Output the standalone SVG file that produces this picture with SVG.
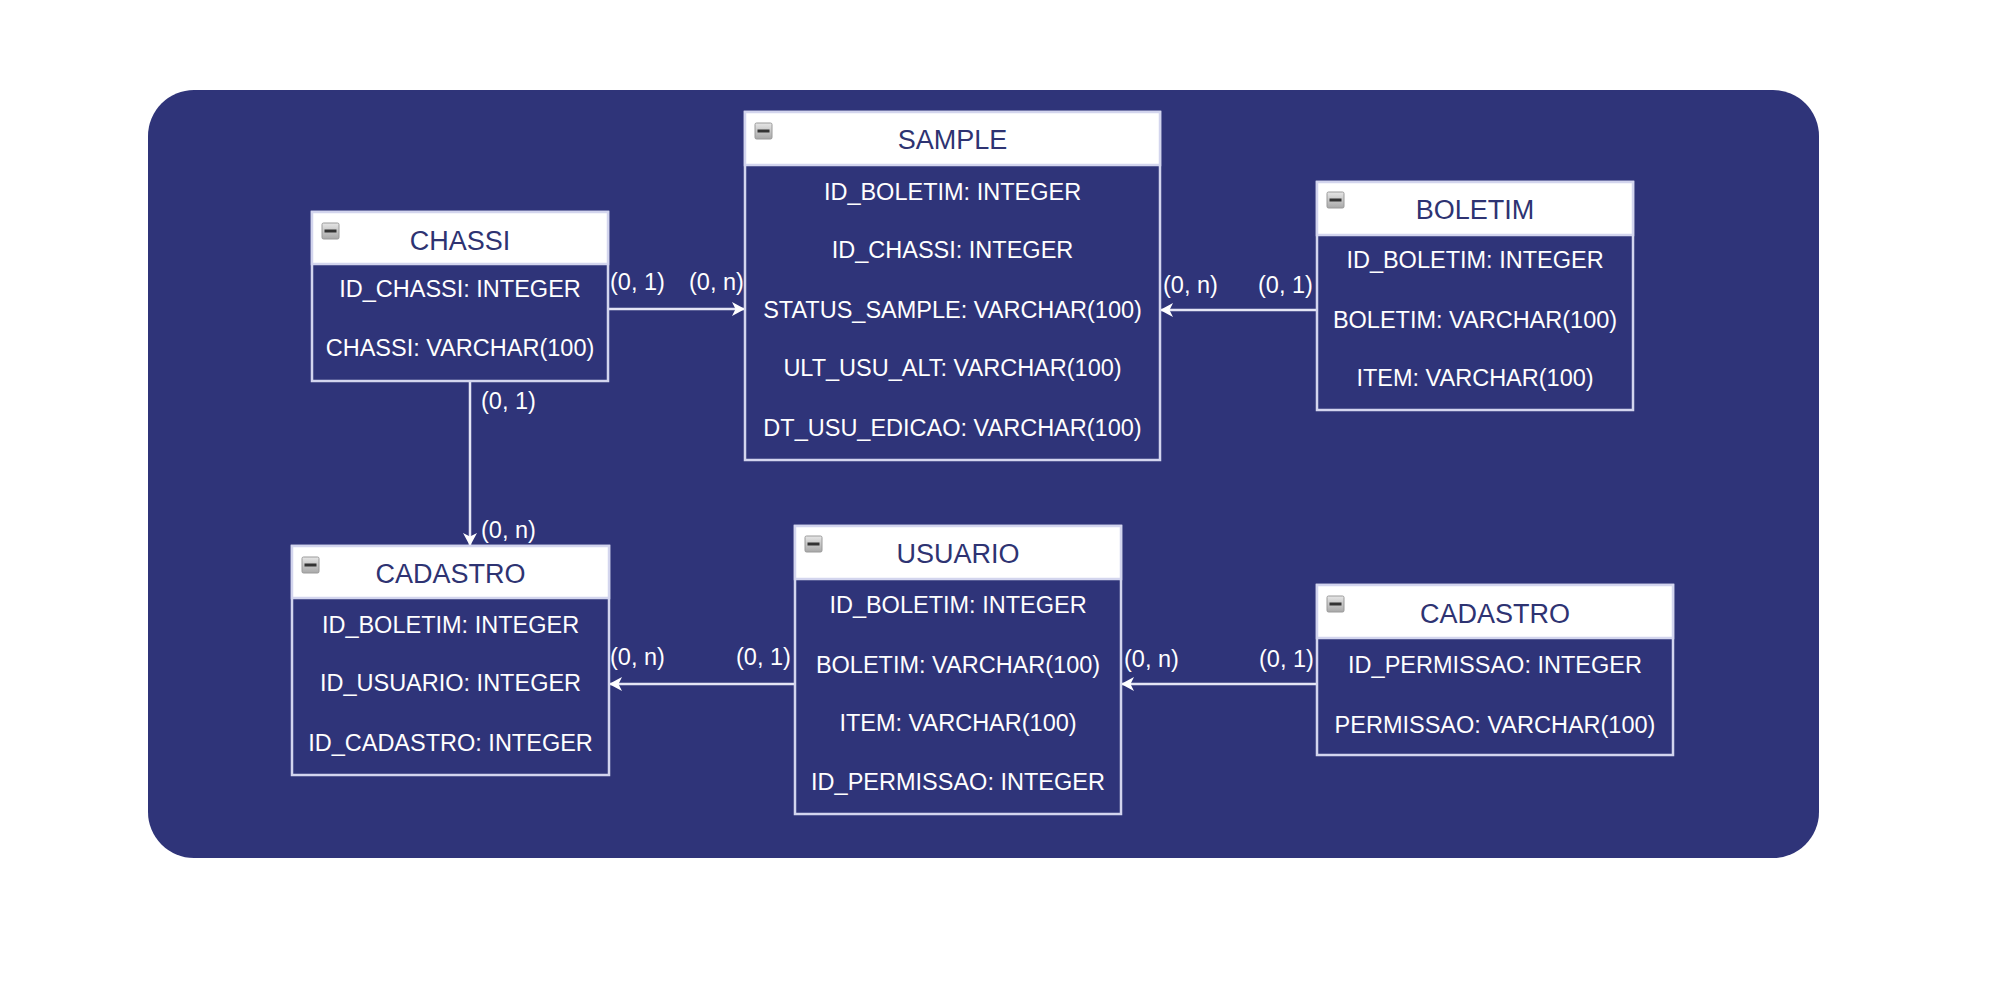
<svg xmlns="http://www.w3.org/2000/svg" width="2000" height="1000" viewBox="0 0 2000 1000">
<defs>
<style>
.bg{fill:#2f3479}
.box{fill:#2f3479;stroke:#d3d5ee;stroke-width:2.5}
.hdr{fill:#ffffff;stroke:#d3d5ee;stroke-width:2.5}
.title{font-family:"Liberation Sans",Arial,sans-serif;font-size:27px;fill:#2e3372;text-anchor:middle}
.fld{font-family:"Liberation Sans",Arial,sans-serif;font-size:23.5px;fill:#ffffff;text-anchor:middle}
.lbl{font-family:"Liberation Sans",Arial,sans-serif;font-size:23.5px;fill:#ffffff}
.edge{fill:none;stroke:#e4e5f5;stroke-width:2.5}
.ico{fill:url(#icog);stroke:#9a9a9a;stroke-width:1}
.icobar{fill:#333333}
</style>
<linearGradient id="icog" x1="0" y1="0" x2="0" y2="1">
<stop offset="0" stop-color="#e6e6e6"/>
<stop offset="1" stop-color="#a8a8a8"/>
</linearGradient>
<marker id="arr" markerUnits="userSpaceOnUse" viewBox="0 -8 14 16" refX="13" refY="0" markerWidth="14" markerHeight="16" orient="auto">
<path d="M0,-7 L13,0 L0,7 L3.5,0 Z" fill="#ffffff"/>
</marker>
</defs>
<rect x="148" y="90" width="1671" height="768" rx="46" ry="46" class="bg"/>

<g id="connectors">
<path class="edge" d="M608,309 L745,309" marker-end="url(#arr)"/>
<path class="edge" d="M1317,310 L1160,310" marker-end="url(#arr)"/>
<path class="edge" d="M470,381 L470,546" marker-end="url(#arr)"/>
<path class="edge" d="M795,684 L609,684" marker-end="url(#arr)"/>
<path class="edge" d="M1317,684 L1121,684" marker-end="url(#arr)"/>
<text class="lbl" x="610" y="290">(0, 1)</text>
<text class="lbl" x="689" y="290">(0, n)</text>
<text class="lbl" x="1163" y="293">(0, n)</text>
<text class="lbl" x="1258" y="293">(0, 1)</text>
<text class="lbl" x="481" y="409">(0, 1)</text>
<text class="lbl" x="481" y="538">(0, n)</text>
<text class="lbl" x="610" y="665">(0, n)</text>
<text class="lbl" x="736" y="665">(0, 1)</text>
<text class="lbl" x="1124" y="667">(0, n)</text>
<text class="lbl" x="1259" y="667">(0, 1)</text>
</g>

<g id="sample">
<rect class="box" x="745" y="112" width="415" height="348"/>
<rect class="hdr" x="745" y="112" width="415" height="53"/>
<rect class="ico" x="755" y="123" width="17" height="16" rx="1.5"/>
<rect class="icobar" x="757.5" y="129.5" width="12" height="3"/>
<text class="title" x="952.5" y="149">SAMPLE</text>
<text class="fld" x="952.5" y="200">ID_BOLETIM: INTEGER</text>
<text class="fld" x="952.5" y="258">ID_CHASSI: INTEGER</text>
<text class="fld" x="952.5" y="318">STATUS_SAMPLE: VARCHAR(100)</text>
<text class="fld" x="952.5" y="376">ULT_USU_ALT: VARCHAR(100)</text>
<text class="fld" x="952.5" y="436">DT_USU_EDICAO: VARCHAR(100)</text>
</g>

<g id="chassi">
<rect class="box" x="312" y="212" width="296" height="169"/>
<rect class="hdr" x="312" y="212" width="296" height="52"/>
<rect class="ico" x="322" y="223" width="17" height="16" rx="1.5"/>
<rect class="icobar" x="324.5" y="229.5" width="12" height="3"/>
<text class="title" x="460" y="250">CHASSI</text>
<text class="fld" x="460" y="297">ID_CHASSI: INTEGER</text>
<text class="fld" x="460" y="356">CHASSI: VARCHAR(100)</text>
</g>

<g id="boletim">
<rect class="box" x="1317" y="182" width="316" height="228"/>
<rect class="hdr" x="1317" y="182" width="316" height="53"/>
<rect class="ico" x="1327" y="192" width="17" height="16" rx="1.5"/>
<rect class="icobar" x="1329.5" y="198.5" width="12" height="3"/>
<text class="title" x="1475" y="219">BOLETIM</text>
<text class="fld" x="1475" y="268">ID_BOLETIM: INTEGER</text>
<text class="fld" x="1475" y="328">BOLETIM: VARCHAR(100)</text>
<text class="fld" x="1475" y="386">ITEM: VARCHAR(100)</text>
</g>

<g id="cadastro-left">
<rect class="box" x="292" y="546" width="317" height="229"/>
<rect class="hdr" x="292" y="546" width="317" height="52"/>
<rect class="ico" x="302" y="557" width="17" height="16" rx="1.5"/>
<rect class="icobar" x="304.5" y="563.5" width="12" height="3"/>
<text class="title" x="450.5" y="583">CADASTRO</text>
<text class="fld" x="450.5" y="633">ID_BOLETIM: INTEGER</text>
<text class="fld" x="450.5" y="691">ID_USUARIO: INTEGER</text>
<text class="fld" x="450.5" y="751">ID_CADASTRO: INTEGER</text>
</g>

<g id="usuario">
<rect class="box" x="795" y="526" width="326" height="288"/>
<rect class="hdr" x="795" y="526" width="326" height="53"/>
<rect class="ico" x="805" y="536" width="17" height="16" rx="1.5"/>
<rect class="icobar" x="807.5" y="542.5" width="12" height="3"/>
<text class="title" x="958" y="563">USUARIO</text>
<text class="fld" x="958" y="613">ID_BOLETIM: INTEGER</text>
<text class="fld" x="958" y="673">BOLETIM: VARCHAR(100)</text>
<text class="fld" x="958" y="731">ITEM: VARCHAR(100)</text>
<text class="fld" x="958" y="790">ID_PERMISSAO: INTEGER</text>
</g>

<g id="cadastro-right">
<rect class="box" x="1317" y="585" width="356" height="170"/>
<rect class="hdr" x="1317" y="585" width="356" height="53"/>
<rect class="ico" x="1327" y="596" width="17" height="16" rx="1.5"/>
<rect class="icobar" x="1329.5" y="602.5" width="12" height="3"/>
<text class="title" x="1495" y="623">CADASTRO</text>
<text class="fld" x="1495" y="673">ID_PERMISSAO: INTEGER</text>
<text class="fld" x="1495" y="733">PERMISSAO: VARCHAR(100)</text>
</g>
</svg>
